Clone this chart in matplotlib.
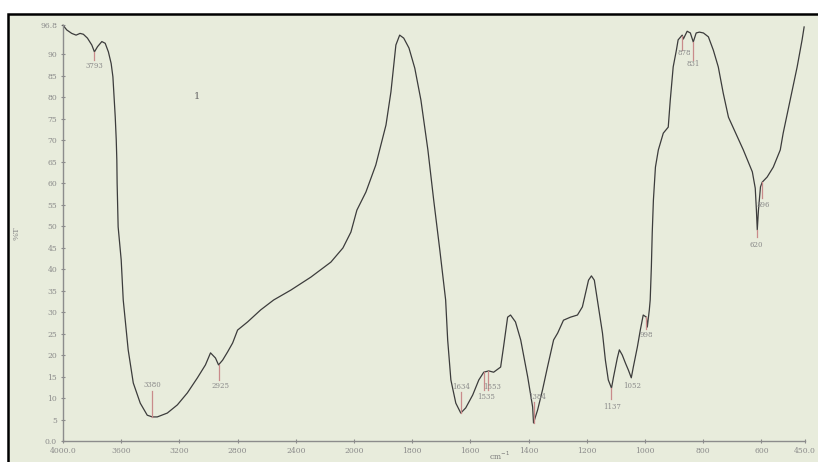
import numpy as np
import matplotlib
matplotlib.use("Agg")
import matplotlib.pyplot as plt
from matplotlib.patches import Rectangle

# spectrum (wavenumber in cm-1, %T)
wavenumber = [4000, 3974, 3940, 3910, 3883, 3860, 3832, 3802, 3784, 3763, 3733, 3710,
              3688, 3669, 3657, 3648, 3641, 3634, 3630, 3628, 3621, 3600, 3586, 3572,
              3552, 3517, 3469, 3421, 3386, 3352, 3283, 3214, 3145, 3076, 3021, 2986,
              2952, 2931, 2903, 2869, 2834, 2800, 2731, 2641, 2552, 2434, 2297, 2159,
              2076, 2021, 1990, 1959, 1925, 1890, 1873, 1856, 1843, 1829, 1811, 1791,
              1770, 1746, 1726, 1705, 1685, 1678, 1667, 1650, 1633, 1616, 1592, 1571,
              1554, 1537, 1520, 1496, 1486, 1472, 1462, 1445, 1427, 1403, 1386, 1383,
              1369, 1352, 1335, 1314, 1300, 1280, 1256, 1232, 1215, 1194, 1184, 1174,
              1160, 1146, 1136, 1126, 1115, 1108, 1095, 1088, 1078, 1067, 1057, 1047,
              1040, 1026, 1016, 1006, 995, 992, 985, 982, 978, 975, 971, 964, 954, 937,
              920, 913, 903, 892, 886, 872, 868, 855, 844, 834, 824, 813, 799, 782, 765,
              748, 731, 713, 682, 662, 645, 631, 621, 617, 614, 610, 603, 597, 580, 559,
              535, 525, 501, 477, 460, 453]
transmittance = [96.7, 95.6, 94.8, 94.4, 94.8, 94.6, 93.7, 92.1, 90.5, 91.7, 92.9, 92.5,
                 90.5, 87.8, 84.7, 79.3, 75.4, 70.0, 65.3, 60.0, 49.8, 42.1, 32.8, 28.1,
                 21.2, 13.5, 8.8, 6.0, 5.6, 5.6, 6.5, 8.4, 11.2, 14.7, 17.7, 20.5,
                 19.3, 17.7, 18.8, 20.7, 22.8, 25.8, 27.7, 30.5, 32.8, 35.1, 38.1, 41.6,
                 44.9, 48.6, 53.7, 57.9, 64.2, 73.5, 81.2, 92.1, 94.4, 93.7, 91.4, 86.7,
                 79.3, 67.7, 56.0, 44.4, 32.8, 23.5, 14.2, 8.8, 6.5, 7.7, 10.7, 14.2,
                 16.0, 16.3, 16.0, 17.2, 21.9, 28.8, 29.3, 27.7, 23.5, 14.9, 7.9, 4.2,
                 7.2, 11.9, 17.2, 23.5, 25.1, 28.1, 28.8, 29.3, 31.2, 37.4, 38.4, 37.4,
                 31.2, 25.1, 18.8, 14.2, 12.3, 14.9, 19.3, 21.2, 20.0, 18.1, 16.5, 14.7,
                 17.2, 21.9, 25.8, 29.3, 28.8, 26.5, 30.5, 32.8, 40.5, 48.4, 56.0, 63.7, 67.7, 71.6,
                 73.0, 79.3, 87.0, 90.9, 93.3, 94.4, 93.5, 95.3, 94.9, 92.8, 94.9, 95.1, 94.9, 94.0, 90.9,
                 87.0, 80.9, 75.3, 70.7, 67.7, 64.9, 62.6, 58.8, 53.7, 49.1, 53.7, 59.1, 60.2, 61.4, 63.7,
                 67.7, 71.6, 79.3, 87.0, 93.3, 96.3]

# peak annotations: label, marker x, marker top/bottom, text x, text y
peak_labels = ['3793', '3380', '2925', '1634', '1553', '1535', '1384', '1137',
               '1052', '998', '878', '831', '620', '596']
peak_x = [3784, 3386, 2931, 1633, 1540, 1554, 1383, 1115, 1047, 995, 872, 834, 614, 597]
peak_t0 = [90.5, 5.6, 17.7, 6.5, 16.2, 16.0, 4.2, 12.3, 14.7, 28.8, 94.2, 92.8, 49.1, 60.2]
peak_t1 = [88.5, 11.6, 14.2, 11.4, 11.9, 11.9, 9.0, 9.8, 14.7, 26.0, 91.0, 88.6, 47.5, 56.5]
label_x = [3784, 3386, 2917, 1633, 1527, 1547, 1369, 1112, 1043, 995, 865, 834, 617, 593]
label_t = [87.2, 13.0, 12.8, 12.6, 12.6, 10.2, 10.2, 7.9, 12.8, 24.7, 90.2, 87.7, 45.6, 54.9]

y_ticks = [0, 5, 10, 15, 20, 25, 30, 35, 40, 45, 50, 55, 60, 65, 70, 75, 80, 85, 90, 96.8]
y_ticklabels = ['0.0'] + [str(v) for v in y_ticks[1:-1]] + ['96.8']
x_ticks = [4000, 3600, 3200, 2800, 2400, 2000, 1800, 1600, 1400, 1200, 1000, 800, 600, 450]
x_ticklabels = ['4000.0'] + [str(v) for v in x_ticks[1:-1]] + ['450.0']


def fwd(w):
    w = np.asarray(w, dtype=float)
    return np.where(w > 2000, 2000 + (w - 2000) / 2, w)


def inv(u):
    u = np.asarray(u, dtype=float)
    return np.where(u > 2000, 2000 + (u - 2000) * 2, u)


W, H = 818, 462
fig = plt.figure(figsize=(W / 100, H / 100), dpi=100)
fig.patch.set_facecolor('white')

bg = '#e8ecdc'
panel = Rectangle((8 / W, -0.1), 1.2, 1 - 14 / H + 0.1, transform=fig.transFigure,
                  facecolor=bg, edgecolor='black', linewidth=1.8, zorder=0)
fig.add_artist(panel)

ax = fig.add_axes([63 / W, 1 - 441 / H, (805 - 63) / W, (441 - 24.8) / H])
ax.set_facecolor('none')
ax.set_xscale('function', functions=(fwd, inv))
ax.set_xlim(4000, 450)
ax.set_ylim(0, 96.8)

ax.plot(wavenumber, transmittance, color='#3c3c3c', lw=0.9, clip_on=False)

tc = '#8a8a8a'
for lab, px, t0, t1, lx, lt in zip(peak_labels, peak_x, peak_t0, peak_t1, label_x, label_t):
    ax.plot([px, px], [t0, t1], color='#c98b8b', lw=0.9)
    ax.text(lx, lt, lab, fontsize=5, color=tc, ha='center', va='center',
            family='DejaVu Serif')

ax.text(3076, 80.2, '1', fontsize=7, color='#666666', ha='center', va='center',
        family='DejaVu Serif')

for s in ['top', 'right']:
    ax.spines[s].set_visible(False)
for s in ['left', 'bottom']:
    ax.spines[s].set_color('#8c8c8c')
    ax.spines[s].set_linewidth(1.0)

ax.set_yticks(y_ticks)
ax.set_yticklabels(y_ticklabels)
ax.set_xticks(x_ticks)
ax.set_xticklabels(x_ticklabels)
ax.minorticks_off()
ax.tick_params(axis='both', colors='#8c8c8c', labelcolor=tc, labelsize=5.5,
               length=2.5, width=0.8, direction='inout', pad=3)
for lbl in ax.get_xticklabels() + ax.get_yticklabels():
    lbl.set_family('DejaVu Serif')

ax.set_ylabel('%T', fontsize=6, color=tc, family='DejaVu Serif', labelpad=14)
fig.text(499 / W, 1 - 461.5 / H, 'cm$^{-1}$', fontsize=5.5, color='#777777',
         ha='center', va='bottom', family='DejaVu Serif')

fig.savefig('out.png', dpi=100)
